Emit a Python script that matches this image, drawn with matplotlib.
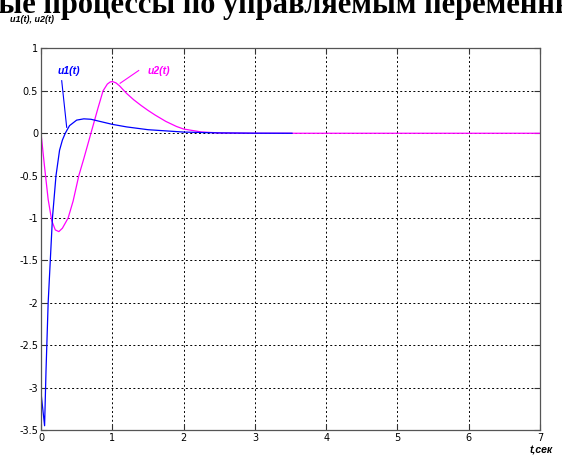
import numpy as np
import matplotlib
matplotlib.use("Agg")
import matplotlib.pyplot as plt

# values
t_u1 = [0.0, 0.005, 0.05, 0.07, 0.10, 0.13, 0.16, 0.21, 0.26, 0.30, 0.34, 0.40,
        0.50, 0.60, 0.70, 0.80, 1.00, 1.20, 1.50, 2.00, 2.50, 3.00, 3.52]
u1 = [-0.67, -3.1, -3.45, -2.8, -2.0, -1.5, -1.0, -0.5, -0.2, -0.08, 0.0, 0.09,
      0.155, 0.17, 0.165, 0.145, 0.105, 0.075, 0.042, 0.014, 0.004, 0.001, 0.0]

t_u2 = [0.0, 0.05, 0.10, 0.15, 0.20, 0.25, 0.30, 0.38, 0.45, 0.53, 0.60, 0.70,
        0.80, 0.87, 0.93, 0.97, 1.00, 1.05, 1.10, 1.20, 1.30, 1.40, 1.50, 1.60,
        1.75, 1.90, 2.00, 2.25, 2.50, 3.00, 7.00]
u2 = [0.0, -0.4, -0.78, -1.03, -1.14, -1.16, -1.12, -1.0, -0.8, -0.5, -0.3, 0.0,
      0.3, 0.5, 0.58, 0.605, 0.61, 0.595, 0.56, 0.47, 0.395, 0.33, 0.27, 0.215,
      0.14, 0.08, 0.05, 0.015, 0.004, 0.0, 0.0]

xticks = [0, 1, 2, 3, 4, 5, 6, 7]
yticks = [1, 0.5, 0, -0.5, -1, -1.5, -2, -2.5, -3, -3.5]
ytick_labels = ["1", "0.5", "0", "-0.5", "-1", "-1.5", "-2", "-2.5", "-3", "-3.5"]

fig = plt.figure(figsize=(5.62, 4.63), dpi=100)
ax = fig.add_axes([0.073, 0.0713, 0.888, 0.824])

ax.plot(t_u2, u2, color="#ff00ff", lw=0.9)
ax.plot(t_u1, u1, color="#0000ff", lw=0.9)

ax.set_xlim(0, 7)
ax.set_ylim(-3.5, 1)
ax.set_xticks(xticks)
ax.set_yticks(yticks)
ax.set_yticklabels(ytick_labels)
ax.tick_params(direction="in", length=4, width=0.8, labelsize=7, pad=2,
               top=True, right=True, colors="#333333")
ax.tick_params(labelcolor="black")
ax.grid(True, color="black", linestyle=(0, (2, 2.5)), lw=0.7)
for s in ax.spines.values():
    s.set_color("#555555")
    s.set_linewidth(0.9)

# curve labels with leader lines
ax.text(0.23, 0.74, "u1(t)", color="#0000ff", fontsize=7.5, fontweight="bold",
        style="italic", family="Liberation Sans", va="center")
ax.plot([0.29, 0.36], [0.62, 0.07], color="#0000ff", lw=0.8)
ax.text(1.49, 0.74, "u2(t)", color="#ff00ff", fontsize=7.5, fontweight="bold",
        style="italic", family="Liberation Sans", va="center")
ax.plot([1.37, 1.11], [0.74, 0.59], color="#ff00ff", lw=0.8)

fig.text(0.497, 0.972, "ные процессы по управляемым переменны", ha="center",
         va="baseline", fontsize=22, fontweight="bold", family="Liberation Serif")
fig.text(0.018, 0.958, "u1(t), u2(t)", ha="left", va="center", fontsize=6.5,
         fontweight="bold", style="italic", family="Liberation Sans")
fig.text(0.943, 0.028, "t,сек", ha="left", va="center", fontsize=7.5,
         fontweight="bold", style="italic", family="Liberation Sans")

fig.savefig("out.png", dpi=100)
